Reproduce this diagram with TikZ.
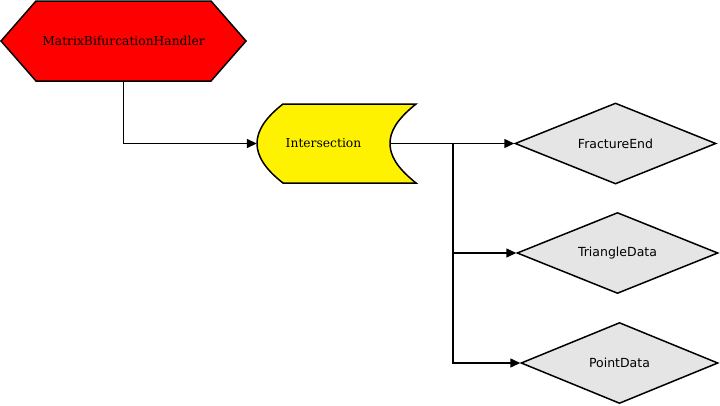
\documentclass[tikz,border=0pt]{standalone}
\usepackage{fontspec}
\setmainfont{DejaVu Serif}
\setsansfont{DejaVu Sans}
\usetikzlibrary{shapes.geometric,arrows.meta}

\tikzset{
  box/.style={inner sep=0pt, font=\fontsize{12.3}{14}\selectfont},
  datanode/.style={diamond, draw, fill=gray!20, line width=1.5pt, minimum width=201pt,
    minimum height=81pt, inner sep=0pt, aspect=2.5, font=\sffamily\fontsize{12.5}{14}\selectfont},
  link/.style={line width=1.5pt, -{Triangle[length=10pt,width=9pt]}}
}

\begin{document}
\begin{tikzpicture}[x=1pt,y=-1pt]
\useasboundingbox (0,0) rectangle (720,405);
% the handler hexagon
\draw[fill=red, line width=1.5pt] (1,41) -- (36,1) -- (211,1) -- (246,41) -- (211,81) -- (36,81) -- cycle;
\node[box, minimum width=245pt, minimum height=80pt] (handler) at (123.5,41) {MatrixBifurcationHandler};
% the intersection box
\draw[fill=yellow, line width=1.5pt] (283,104) -- (416,104)
  .. controls (396,120) and (390,132) .. (390,143.5)
  .. controls (390,155) and (396,167) .. (416,183) -- (283,183)
  .. controls (265,169) and (257,156) .. (257,143.5)
  .. controls (257,131) and (265,118) .. (283,104) -- cycle;
\node[box, minimum width=133pt, minimum height=79pt] (isect) at (323.5,143.5) {Intersection};
% data nodes
\node[datanode] (fracture) at (615.5,143.5) {FractureEnd};
\node[datanode] (triangle) at (617.5,253) {TriangleData};
\node[datanode, minimum width=197pt] (point) at (619.5,363) {PointData};
\coordinate (split) at (453,143.5);
% connectors
\draw[link] (handler.south) |- (isect.west);
\draw[link] (isect.east) -- (fracture.west);
\draw[link] (split) |- (triangle.west);
\draw[link] (split) |- (point.west);
\end{tikzpicture}
\end{document}
